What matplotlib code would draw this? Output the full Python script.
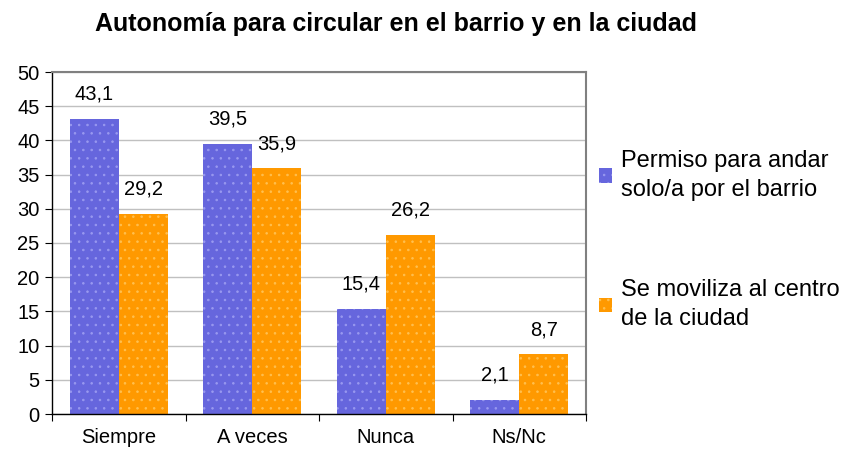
import matplotlib
matplotlib.use("Agg")
import matplotlib.pyplot as plt
import numpy as np
from matplotlib.patches import Patch

categories = ["Siempre", "A veces", "Nunca", "Ns/Nc"]
permiso = [43.1, 39.5, 15.4, 2.1]
centro = [29.2, 35.9, 26.2, 8.7]
series_names = ["Permiso para andar\nsolo/a por el barrio", "Se moviliza al centro\nde la ciudad"]
yticks = [0, 5, 10, 15, 20, 25, 30, 35, 40, 45, 50]

plt.rcParams['font.family'] = ['Liberation Sans', 'DejaVu Sans']
plt.rcParams['hatch.linewidth'] = 0.6

fig = plt.figure(figsize=(8.48, 4.51), dpi=100)
W, H = 848, 451
ax = fig.add_axes([52 / W, 1 - 414 / H, (586 - 52) / W, (414 - 72) / H])

x = np.arange(len(categories))
bw = 0.366
blue = "#6666DD"
orange = "#FF9900"
b1 = ax.bar(x - bw / 2, permiso, bw, color=blue, edgecolor="#9999F0", linewidth=0, hatch="..")
b2 = ax.bar(x + bw / 2, centro, bw, color=orange, edgecolor="#FFC050", linewidth=0, hatch="..")

for bars, vals in ((b1, permiso), (b2, centro)):
    for r, v in zip(bars, vals):
        ax.annotate(f"{v:.1f}".replace(".", ","), (r.get_x() + r.get_width() / 2, v),
                    xytext=(0, 11), textcoords="offset points", ha="center", va="bottom",
                    fontsize=14.5)

ax.set_xlim(-0.5, len(categories) - 0.5)
ax.set_ylim(0, 50)
ax.set_yticks(yticks)
ax.set_yticklabels([str(t) for t in yticks], fontsize=14.5)
ax.yaxis.grid(True, color="#C0C0C0", linewidth=1)
ax.set_axisbelow(True)

ax.set_xticks(np.arange(len(categories) + 1) - 0.5)
ax.set_xticklabels([])
ax.set_xticks(x, minor=True)
ax.set_xticklabels(categories, minor=True, fontsize=14.5)
ax.tick_params(axis="x", which="minor", length=0, pad=10)
ax.tick_params(axis="x", which="major", length=5, direction="out")
ax.tick_params(axis="y", length=5, direction="out", pad=4)

for s in ("top", "right"):
    ax.spines[s].set_color("#808080")
    ax.spines[s].set_linewidth(1.5)
for s in ("left", "bottom"):
    ax.spines[s].set_color("black")
    ax.spines[s].set_linewidth(1)

fig.text(396 / W, 1 - 24 / H, "Autonomía para circular en el barrio y en la ciudad",
         ha="center", va="center", fontsize=18, fontweight="bold")

handles = [Patch(facecolor=blue, edgecolor="#9999F0", hatch="..", linewidth=0),
           Patch(facecolor=orange, edgecolor="#FFC050", hatch="..", linewidth=0)]
leg = fig.legend(handles, series_names, loc="center left", bbox_to_anchor=(599 / W, 1 - 240 / H),
                 frameon=False, fontsize=17, labelspacing=3.28, handlelength=0.55, handleheight=0.55,
                 handletextpad=0.4, borderaxespad=0, borderpad=0)
for t in leg.get_texts():
    t.set_linespacing(1.45)

fig.savefig("out.png", dpi=100)
